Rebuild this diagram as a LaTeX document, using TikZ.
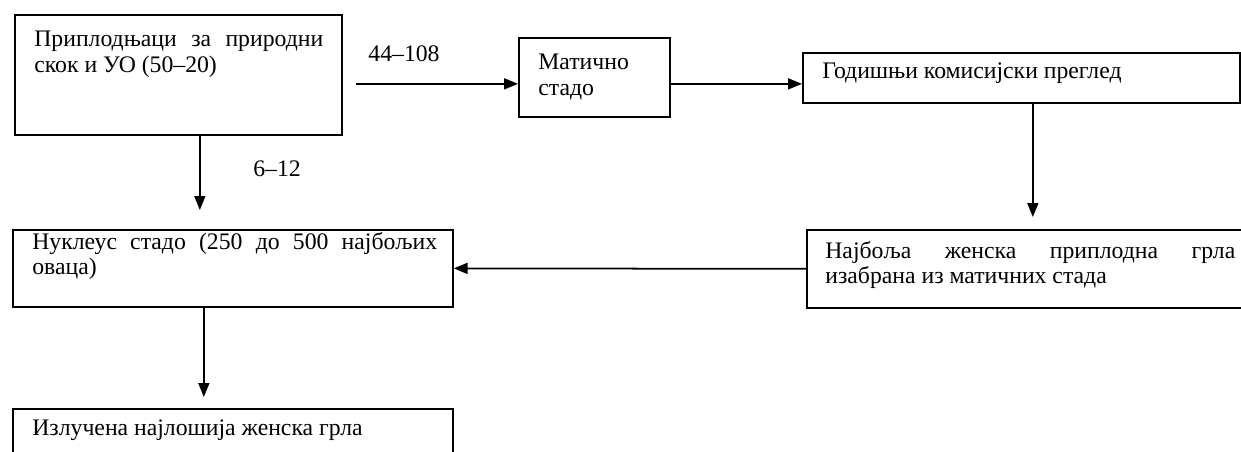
\documentclass[tikz,border=0pt]{standalone}
\usepackage{fontspec}
\setmainfont{Liberation Serif}
\usepackage{tikz}
\usetikzlibrary{arrows.meta, positioning, calc}

\tikzset{
    blok/.style={draw=black, line width=1pt, anchor=north west, inner sep=0pt},
    tekst/.style={anchor=north west, inner sep=0pt, font=\fontsize{13.5}{14.3}\selectfont, align=justify},
    broj/.style={inner sep=0pt, font=\fontsize{13.5}{14.3}\selectfont},
    strelica/.style={-{Triangle[length=0.28cm, width=0.22cm]}, line width=1pt}
}

\begin{document}
\begin{tikzpicture}[x=0.02cm, y=-0.02cm]
                \useasboundingbox (0,0) rectangle (1241,452);

                % --- Okviri ---
                \node[blok, minimum width=6.54cm, minimum height=2.4cm] (pripl) at (14,14) {};
                \node[blok, minimum width=3.02cm, minimum height=1.58cm] (maticno) at (518,37) {};
                \node[blok, minimum width=8.74cm, minimum height=1.0cm] (godisnji) at (802,52) {};
                \node[blok, minimum width=8.8cm, minimum height=1.56cm] (najbolja) at (806,229) {};
                \node[blok, minimum width=8.8cm, minimum height=1.54cm] (nukleus) at (12,229) {};
                \node[blok, minimum width=8.8cm, minimum height=1.0cm] (izlucena) at (12,408) {};

                % --- Tekstovi u okvirima ---
                \node[tekst, text width=5.78cm] (t-pripl) at (34,31) {Приплодњаци за природни\linebreak скок и УО (50–20)};
                \node[tekst, align=left] (t-maticno) at (538,54) {Матично\\стадо};
                \node[tekst, align=left] (t-godisnji) at (822,62) {Годишњи комисијски преглед};
                \node[tekst, text width=8.2cm] (t-najbolja) at (825,241) {Најбоља женска приплодна грла\linebreak изабрана из матичних стада};
                \node[tekst, text width=8.1cm] (t-nukleus) at (32,232) {Нуклеус стадо (250 до 500 најбољих\linebreak оваца)};
                \node[tekst, align=left] (t-izlucena) at (32,419) {Излучена најлошија женска грла};

                % --- Strelice ---
                \coordinate (s1) at ([shift={(0.26cm,-0.18cm)}]pripl.east);
                \draw[strelica] (s1) -- (s1 -| maticno.west);
                \draw[strelica] (s1 -| maticno.east) -- (s1 -| godisnji.west);
                \draw[strelica, shorten >=0.24cm] ([xshift=0.23cm]godisnji.south) -- ([xshift=0.23cm]godisnji.south |- najbolja.north);
                \draw[strelica] (najbolja.west) -- (nukleus.east);
                \draw[strelica, shorten >=0.38cm] ([xshift=0.43cm]pripl.south) -- ([xshift=0.43cm]pripl.south |- nukleus.north);
                \draw[strelica, shorten >=0.22cm] ([xshift=-0.58cm]nukleus.south) -- ([xshift=-0.58cm]nukleus.south |- izlucena.north);

                % --- Brojevi uz strelice ---
                \node[broj] (lab1) at (404,54) {44–108};
                \node[broj] (lab2) at (277,169) {6–12};
\end{tikzpicture}
\end{document}
